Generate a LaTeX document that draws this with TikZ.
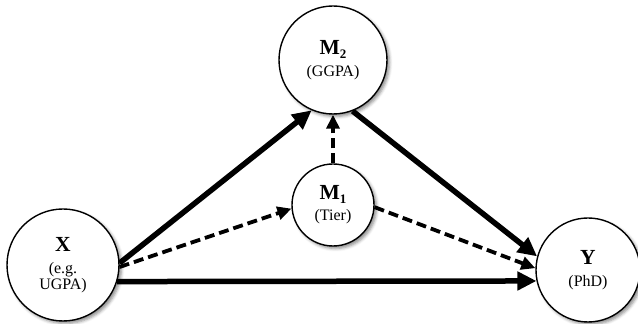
\documentclass[tikz,border=0pt]{standalone}
\usepackage{fontspec}
\setmainfont{Liberation Serif}
\usetikzlibrary{arrows.meta,shadows.blur}
\newcommand\mainlab[1]{{\fontsize{21.5}{24}\selectfont\bfseries #1}}
\newcommand\subscr[1]{\raisebox{-4pt}{\fontsize{13}{13}\selectfont\bfseries #1}}
\newcommand\sublab[1]{{\fontsize{16}{16}\selectfont #1}}
\begin{document}
\begin{tikzpicture}[x=1pt,y=1pt,
  var/.style={circle,draw,line width=1.4pt,fill=white,inner sep=0pt,align=center,
    font=\fontsize{16}{16}\selectfont,
    blur shadow={shadow xshift=2.5pt,shadow yshift=-2.5pt,shadow blur radius=3pt,shadow opacity=45}},
  solidarrow/.style={line width=5.5pt,-{Triangle[length=19pt,width=18pt]}},
  dashedarrow/.style={line width=3.8pt,dash pattern=on 10pt off 5pt,-{Triangle[length=14pt,width=13pt]}}]
\useasboundingbox (0,0) rectangle (638,324);
\node[var,minimum size=112pt] (X) at (63,59) {\mainlab{X}\\[6pt]\sublab{(e.g.}\\\sublab{UGPA)}};
\node[var,minimum size=108pt] (M2) at (333,264) {\mainlab{M\subscr{2}}\\[6pt]\sublab{(GGPA)}};
\node[var,minimum size=82pt] (M1) at (333,119) {\mainlab{M\subscr{1}}\\[5pt]\sublab{(Tier)}};
\node[var,minimum size=104pt] (Y) at (588,54) {\mainlab{Y}\\[6pt]\sublab{(PhD)}};
\draw[solidarrow] (X.-17) -- (Y.192);
\draw[solidarrow] (X.2) -- (M2.247);
\draw[dashedarrow] (X.-2) -- (M1.185);
\draw[dashedarrow] (M1.90) -- (M2.270);
\draw[solidarrow] (M2.-69) -- (Y.165);
\draw[dashedarrow] (M1.-3) -- (Y.178);
\end{tikzpicture}
\end{document}
